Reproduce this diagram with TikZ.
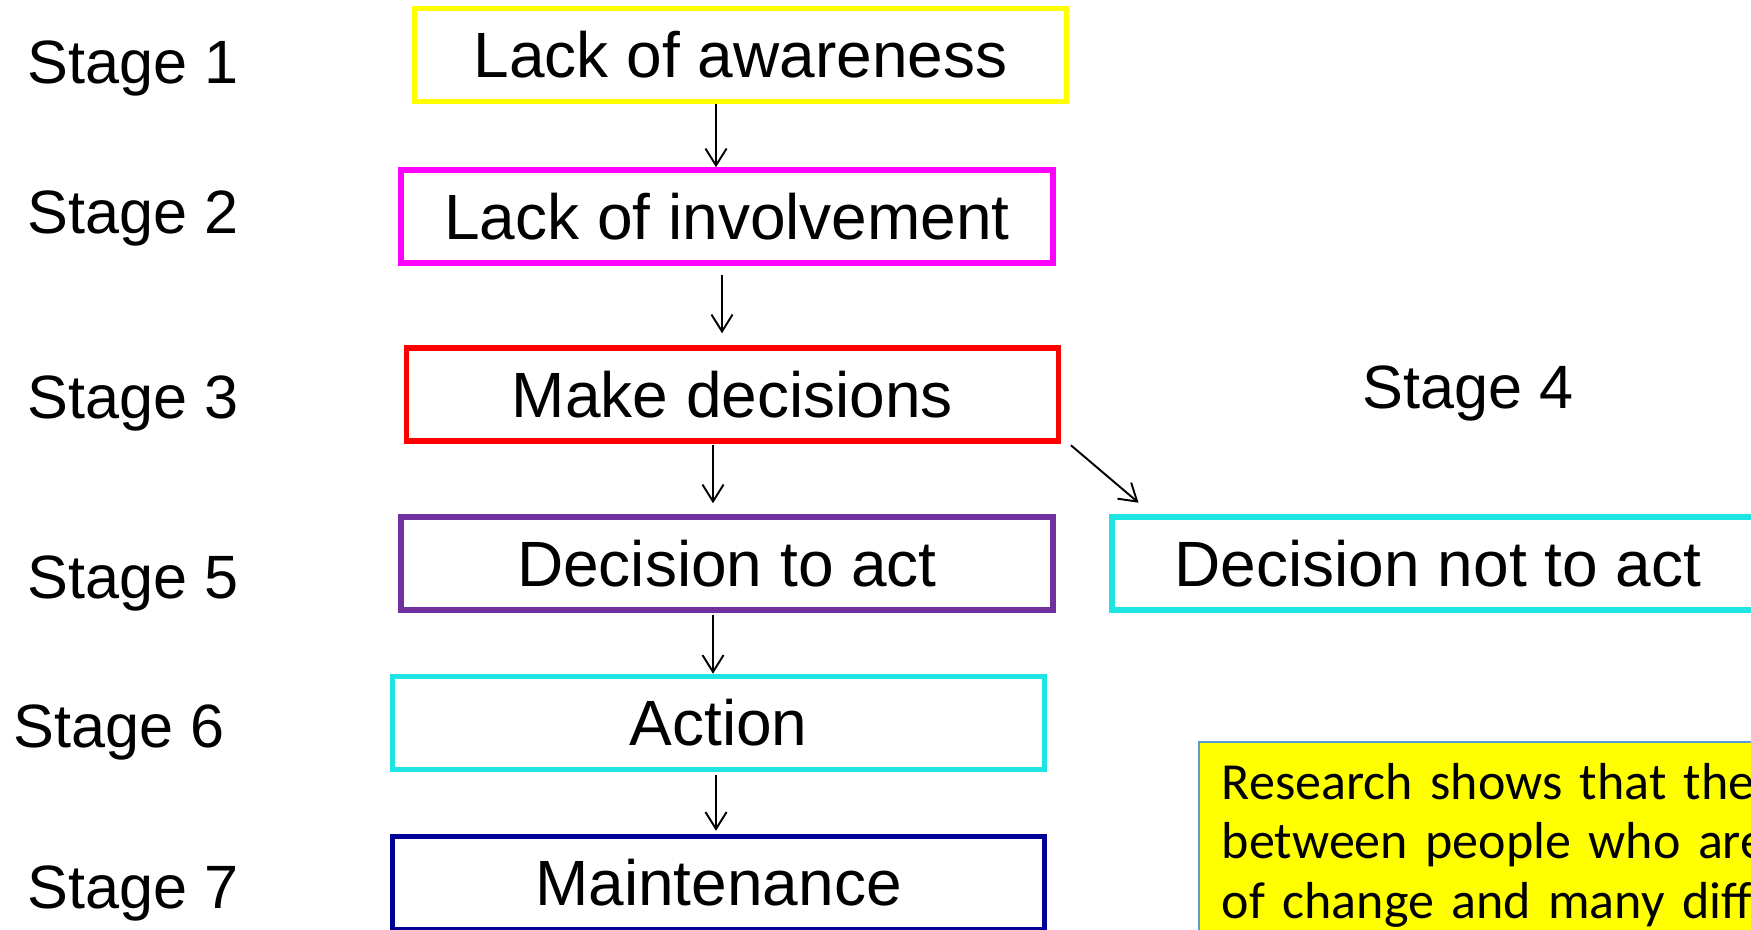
\documentclass[tikz,border=0pt]{standalone}
\usepackage{fontspec}
\setmainfont{Liberation Sans}
\newfontfamily\notefont{Carlito}
\usetikzlibrary{arrows.meta,calc}

\definecolor{awareyellow}{RGB}{255,255,0}
\definecolor{involvemagenta}{RGB}{255,0,255}
\definecolor{decidered}{RGB}{255,0,0}
\definecolor{actpurple}{RGB}{112,48,160}
\definecolor{actioncyan}{RGB}{30,228,228}
\definecolor{maintnavy}{RGB}{0,0,150}
\definecolor{noteedge}{RGB}{91,155,213}

\tikzset{
  stagebox/.style={draw=#1, line width=0.055cm, minimum width=6.52cm,
    minimum height=0.93cm, inner sep=0pt, font=\fontsize{18.2}{22}\selectfont},
  stagelabel/.style={anchor=base west, inner sep=0pt,
    font=\fontsize{17.4}{21}\selectfont},
  flow/.style={->, line width=0.55pt},
  notebox/.style={draw=noteedge, line width=0.5pt, fill=awareyellow,
    anchor=north west, align=left, text width=7.5cm,
    inner xsep=0.23cm, inner ysep=0.21cm,
    font=\notefont\fontsize{14.8}{17}\selectfont}
}

\begin{document}
\begin{tikzpicture}[x=0.01cm, y=-0.01cm, >={Straight Barb[length=4.8pt,width=6pt]}]
        \useasboundingbox (0,0) rectangle (1751,929);
        \clip (0,0) rectangle (1751,929);
        % stage boxes
        \node [stagebox=awareyellow] (aware) at (740.5,55) {Lack of awareness};
        \node [stagebox=involvemagenta] (involve) at (727,216.5) {Lack of involvement};
        \node [stagebox=decidered] (decide) at (732.5,394.5) {Make decisions};
        \node [stagebox=actpurple] (act) at (727,563.5) {Decision to act};
        \node [stagebox=actioncyan] (notact) at (1438,563.5) {Decision not to act};
        \node [stagebox=actioncyan] (action) at (718.5,723) {Action};
        \node [stagebox=maintnavy] (maint) at (718.5,883) {Maintenance};
        % stage numbers
        \node [stagelabel] (s1) at (27,83) {Stage 1};
        \node [stagelabel] (s2) at (27,233) {Stage 2};
        \node [stagelabel] (s3) at (27,418) {Stage 3};
        \node [stagelabel] (s4) at (1362,408) {Stage 4};
        \node [stagelabel] (s5) at (27,598) {Stage 5};
        \node [stagelabel] (s6) at (13,747) {Stage 6};
        \node [stagelabel] (s7) at (27,908) {Stage 7};
        % arrows
        \draw [flow] ($(aware.south)+(-24.5,0)$) -- ($(involve.north)+(-11,0)$);
        \draw [flow] ($(involve.south)+(-5,9)$) -- ($(decide.north)+(-10.5,-12)$);
        \draw [flow] ($(decide.south)+(-19.5,1)$) -- ($(act.north)+(-14,-11)$);
        \draw [flow] ($(act.south)+(-14,2)$) -- ($(action.north)+(-5.5,0)$);
        \draw [flow] ($(action.south)+(-2.5,2.5)$) -- ($(maint.north)+(-2.5,-3)$);
        \draw [flow] ($(decide.south east)+(9.5,1.5)$) -- ($(notact.north west)+(29.5,-11.5)$);
        % note
        \node [notebox] (note) at (1198,741) {Research shows that the\\between people who are\\of change and many diffe};
\end{tikzpicture}
\end{document}
